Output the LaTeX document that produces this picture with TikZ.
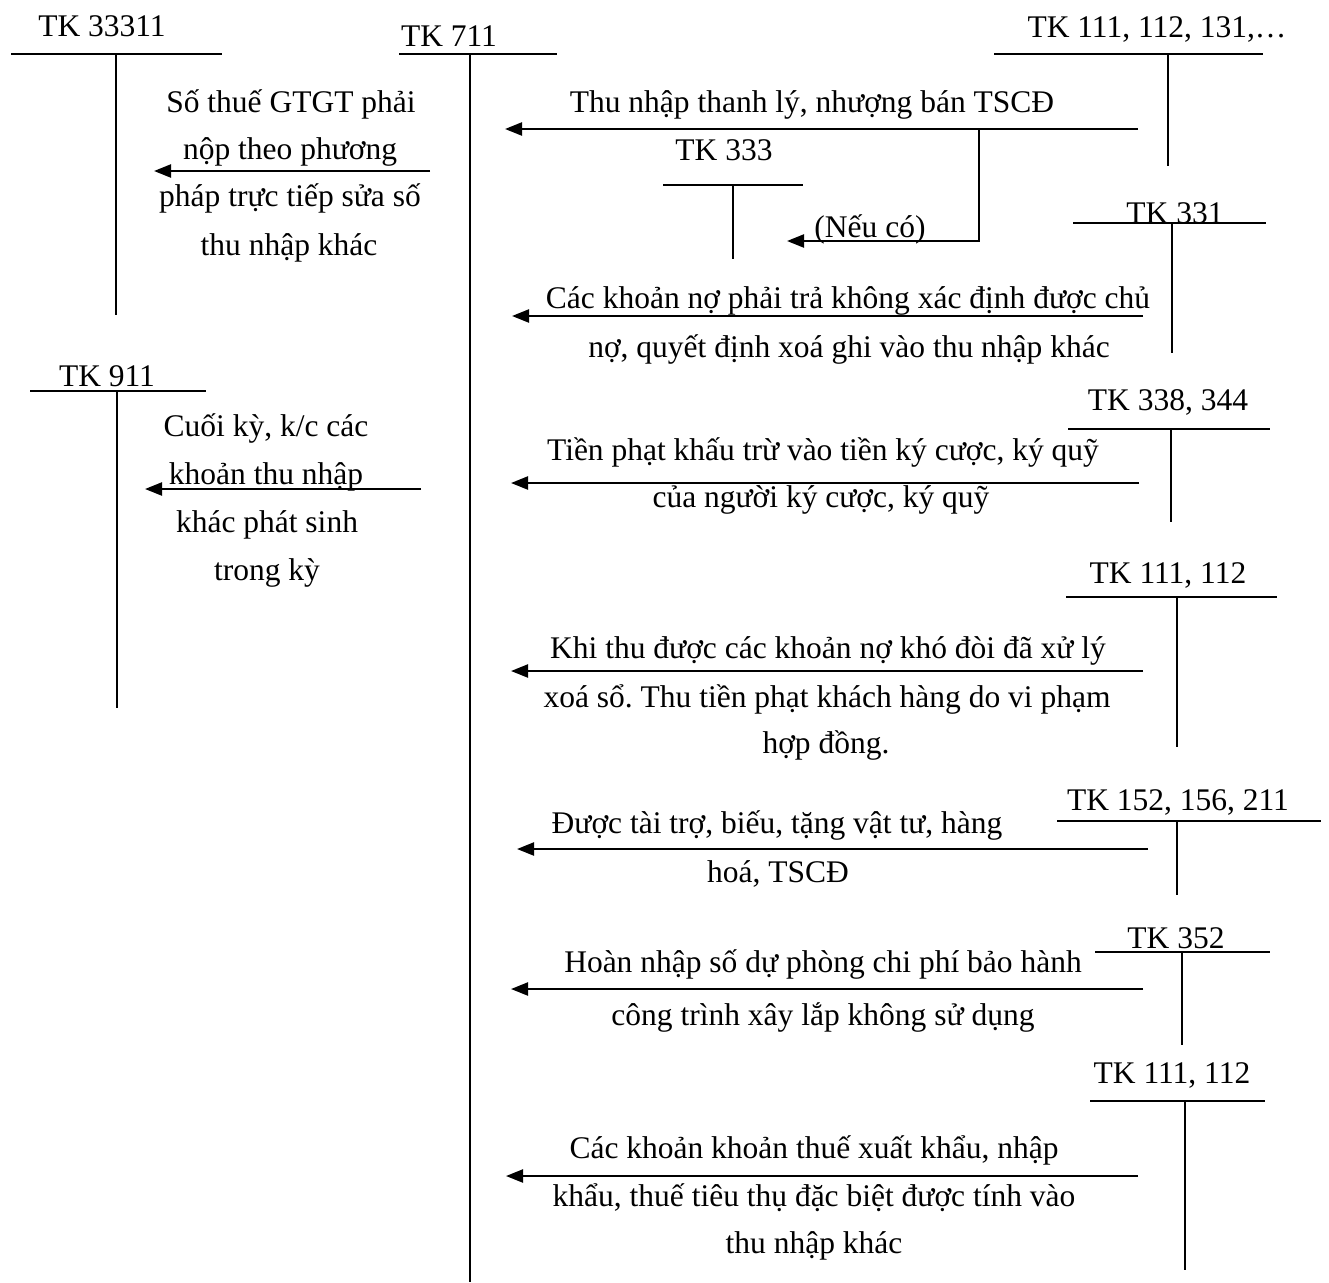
\documentclass[tikz,border=0pt]{standalone}
\usepackage{fontspec}
\setmainfont{Liberation Serif}
\usetikzlibrary{arrows.meta}
\frenchspacing
\begin{document}
\begin{tikzpicture}[x=1pt,y=-1pt,
  tline/.style={line width=2.3pt},
  arr/.style={line width=2.3pt,-{Triangle[length=17pt,width=13pt]}},
  txt/.style={anchor=base,inner sep=0pt,font=\fontsize{31.5}{38}\selectfont},
]
\useasboundingbox (0,0) rectangle (1329,1282);

% ---------- T accounts ----------
% TK 33311
\node[txt] (t1) at (102,36) {TK 33311};
\coordinate (t1l) at (11,54);  \coordinate (t1r) at (222,54);
\coordinate (t1t) at (116,54); \coordinate (t1b) at (116,315);
\draw[tline] (t1l) -- (t1r); \draw[tline] (t1t) -- (t1b);
% TK 711
\node[txt] (t2) at (449,46) {TK 711};
\coordinate (t2l) at (399,54);  \coordinate (t2r) at (557,54);
\coordinate (t2t) at (470,54);  \coordinate (t2b) at (470,1282);
\draw[tline] (t2l) -- (t2r); \draw[tline] (t2t) -- (t2b);
% TK 111, 112, 131,...
\node[txt] (t3) at (1157,37) {TK 111, 112, 131,…};
\coordinate (t3l) at (994,54);  \coordinate (t3r) at (1263,54);
\coordinate (t3t) at (1168,54); \coordinate (t3b) at (1168,166);
\draw[tline] (t3l) -- (t3r); \draw[tline] (t3t) -- (t3b);
% TK 333
\node[txt] (t4) at (724,160) {TK 333};
\coordinate (t4l) at (663,185);  \coordinate (t4r) at (803,185);
\coordinate (t4t) at (733,185);  \coordinate (t4b) at (733,259);
\draw[tline] (t4l) -- (t4r); \draw[tline] (t4t) -- (t4b);
% TK 331
\node[txt] (t5) at (1175,223) {TK 331};
\coordinate (t5l) at (1073,223);  \coordinate (t5r) at (1266,223);
\coordinate (t5t) at (1172,223);  \coordinate (t5b) at (1172,353);
\draw[tline] (t5l) -- (t5r); \draw[tline] (t5t) -- (t5b);
% TK 911
\node[txt] (t6) at (107,386) {TK 911};
\coordinate (t6l) at (30,391);  \coordinate (t6r) at (206,391);
\coordinate (t6t) at (117,391); \coordinate (t6b) at (117,708);
\draw[tline] (t6l) -- (t6r); \draw[tline] (t6t) -- (t6b);
% TK 338, 344
\node[txt] (t7) at (1168,410) {TK 338, 344};
\coordinate (t7l) at (1068,429);  \coordinate (t7r) at (1270,429);
\coordinate (t7t) at (1171,429);  \coordinate (t7b) at (1171,522);
\draw[tline] (t7l) -- (t7r); \draw[tline] (t7t) -- (t7b);
% TK 111, 112 (a)
\node[txt] (t8) at (1168,583) {TK 111, 112};
\coordinate (t8l) at (1066,597);  \coordinate (t8r) at (1277,597);
\coordinate (t8t) at (1177,597);  \coordinate (t8b) at (1177,747);
\draw[tline] (t8l) -- (t8r); \draw[tline] (t8t) -- (t8b);
% TK 152, 156, 211
\node[txt] (t9) at (1178,810) {TK 152, 156, 211};
\coordinate (t9l) at (1057,821);  \coordinate (t9r) at (1321,821);
\coordinate (t9t) at (1177,821);  \coordinate (t9b) at (1177,895);
\draw[tline] (t9l) -- (t9r); \draw[tline] (t9t) -- (t9b);
% TK 352
\node[txt] (t10) at (1176,948) {TK 352};
\coordinate (t10l) at (1095,952);  \coordinate (t10r) at (1270,952);
\coordinate (t10t) at (1182,952);  \coordinate (t10b) at (1182,1045);
\draw[tline] (t10l) -- (t10r); \draw[tline] (t10t) -- (t10b);
% TK 111, 112 (b)
\node[txt] (t11) at (1172,1083) {TK 111, 112};
\coordinate (t11l) at (1090,1101);  \coordinate (t11r) at (1265,1101);
\coordinate (t11t) at (1185,1101);  \coordinate (t11b) at (1185,1270);
\draw[tline] (t11l) -- (t11r); \draw[tline] (t11t) -- (t11b);

% ---------- arrows ----------
\coordinate (a1s) at (430,171);  \coordinate (a1e) at (154,171);
\draw[arr] (a1s) -- (a1e);
\coordinate (a2s) at (421,489);  \coordinate (a2e) at (145,489);
\draw[arr] (a2s) -- (a2e);
\coordinate (b1s) at (1138,129); \coordinate (b1e) at (505,129);
\draw[arr] (b1s) -- (b1e);
\coordinate (brs) at (979,129);  \coordinate (brc) at (979,241); \coordinate (bre) at (787,241);
\draw[arr] (brs) -- (brc) -- (bre);
\coordinate (b2s) at (1143,316); \coordinate (b2e) at (512,316);
\draw[arr] (b2s) -- (b2e);
\coordinate (b3s) at (1139,483); \coordinate (b3e) at (511,483);
\draw[arr] (b3s) -- (b3e);
\coordinate (b4s) at (1143,671); \coordinate (b4e) at (511,671);
\draw[arr] (b4s) -- (b4e);
\coordinate (b5s) at (1148,849); \coordinate (b5e) at (517,849);
\draw[arr] (b5s) -- (b5e);
\coordinate (b6s) at (1143,989); \coordinate (b6e) at (511,989);
\draw[arr] (b6s) -- (b6e);
\coordinate (b7s) at (1138,1176); \coordinate (b7e) at (506,1176);
\draw[arr] (b7s) -- (b7e);

% ---------- texts ----------
\node[txt] (l1a) at (291,112) {Số thuế GTGT phải};
\node[txt] (l1b) at (290,159) {nộp theo phương};
\node[txt] (l1c) at (290,206) {pháp trực tiếp sửa số};
\node[txt] (l1d) at (289,255) {thu nhập khác};

\node[txt] (l2a) at (266,436) {Cuối kỳ, k/c các};
\node[txt] (l2b) at (266,484) {khoản thu nhập};
\node[txt] (l2c) at (267,532) {khác phát sinh};
\node[txt] (l2d) at (267,580) {trong kỳ};

\node[txt] (r1) at (812,112) {Thu nhập thanh lý, nhượng bán TSCĐ};
\node[txt] (rn) at (870,237) {(Nếu có)};

\node[txt] (r2a) at (848,308) {Các khoản nợ phải trả không xác định được chủ};
\node[txt] (r2b) at (849,357) {nợ, quyết định xoá ghi vào thu nhập khác};

\node[txt] (r3a) at (823,460) {Tiền phạt khấu trừ vào tiền ký cược, ký quỹ};
\node[txt] (r3b) at (821,507) {của người ký cược, ký quỹ};

\node[txt] (r4a) at (828,658) {Khi thu được các khoản nợ khó đòi đã xử lý};
\node[txt] (r4b) at (827,707) {xoá sổ. Thu tiền phạt khách hàng do vi phạm};
\node[txt] (r4c) at (826,753) {hợp đồng.};

\node[txt] (r5a) at (777,833) {Được tài trợ, biếu, tặng vật tư, hàng};
\node[txt] (r5b) at (778,882) {hoá, TSCĐ};

\node[txt] (r6a) at (823,972) {Hoàn nhập số dự phòng chi phí bảo hành};
\node[txt] (r6b) at (823,1025) {công trình xây lắp không sử dụng};

\node[txt] (r7a) at (814,1158) {Các khoản khoản thuế xuất khẩu, nhập};
\node[txt] (r7b) at (814,1206) {khẩu, thuế tiêu thụ đặc biệt được tính vào};
\node[txt] (r7c) at (814,1253) {thu nhập khác};
\end{tikzpicture}
\end{document}
